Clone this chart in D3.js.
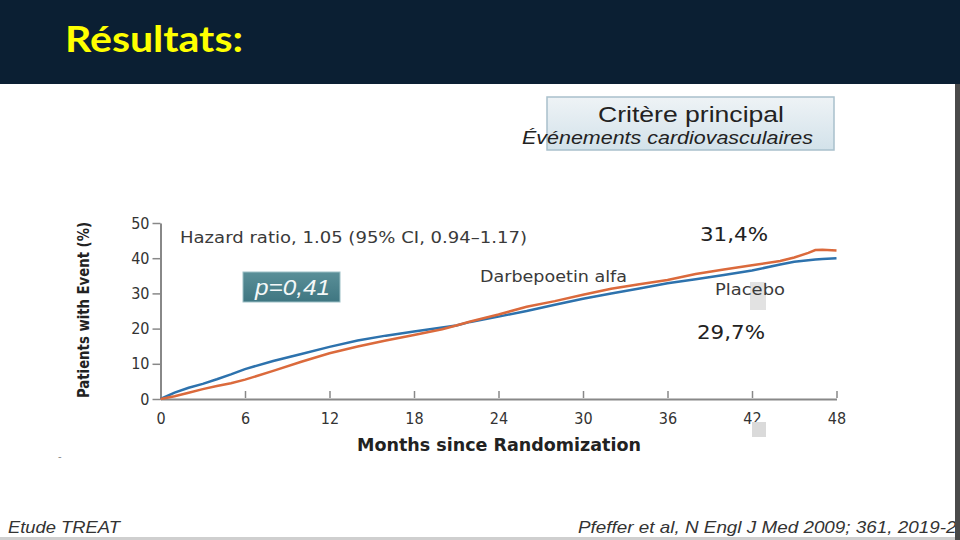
<!DOCTYPE html>
<html><head><meta charset="utf-8">
<script src="https://cdn.jsdelivr.net/npm/d3@7"></script>
<style>html,body{margin:0;padding:0;background:#fff;}svg{display:block;}</style>
</head><body>
<script>
// Data (Kaplan–Meier style cumulative %)
const months = [0,1,2,3,4,5,6,8,10,12,14,16,18,20,21,22,24,26,28,30,32,34,36,38,40,42,44,45,46,46.5,47,48];
const placebo = [0,1.8,3.2,4.3,5.6,7.0,8.5,10.8,12.8,14.8,16.6,18.0,19.2,20.3,20.9,21.9,23.4,25.0,26.8,28.5,30.0,31.4,32.9,34.0,35.2,36.5,38.2,39.0,39.4,39.6,39.8,40.0];
const darbepoetin = [0,0.8,1.8,2.8,3.7,4.5,5.5,8.0,10.6,13.0,14.9,16.6,18.2,19.8,20.9,22.0,24.0,26.2,27.8,29.6,31.3,32.6,33.8,35.5,36.8,38.0,39.2,40.2,41.5,42.3,42.4,42.2];
const xTicks = [0,6,12,18,24,30,36,42,48];
const yTicks = [0,10,20,30,40,50];

const W = 960, H = 540;
const svg = d3.select("body").append("svg").attr("width", W).attr("height", H);

// background + header
svg.append("rect").attr("x",0).attr("y",0).attr("width",W).attr("height",H).attr("fill","#ffffff");
svg.append("rect").attr("x",0).attr("y",0).attr("width",W).attr("height",84).attr("fill","#0b1f33");
svg.append("text").attr("x",65).attr("y",52).attr("fill","#ffff00")
  .attr("font-family","Lato, Open Sans, sans-serif").attr("font-weight","bold").attr("font-size",37)
  .attr("textLength",178).attr("lengthAdjust","spacingAndGlyphs")
  .text("Résultats:");
svg.append("rect").attr("x",0).attr("y",537).attr("width",955).attr("height",3).attr("fill","#cfcfcf");

// Box title
const defs = svg.append("defs");
const g1 = defs.append("linearGradient").attr("id","boxg").attr("x1",0).attr("y1",0).attr("x2",0).attr("y2",1);
g1.append("stop").attr("offset","0%").attr("stop-color","#eef3f6");
g1.append("stop").attr("offset","100%").attr("stop-color","#d3e2ea");
svg.append("rect").attr("x",547).attr("y",97).attr("width",287).attr("height",53)
  .attr("fill","url(#boxg)").attr("stroke","#a9c0cc").attr("stroke-width",1.5);
svg.append("text").attr("x",598).attr("y",122)
  .attr("font-family","Liberation Sans, Arial, sans-serif").attr("font-size",22).attr("fill","#222")
  .attr("textLength",186).attr("lengthAdjust","spacingAndGlyphs")
  .text("Critère principal");
svg.append("text").attr("x",522).attr("y",144)
  .attr("font-family","Liberation Sans, Arial, sans-serif").attr("font-style","italic").attr("font-size",18).attr("fill","#222")
  .attr("textLength",291).attr("lengthAdjust","spacingAndGlyphs")
  .text("Événements cardiovasculaires");

// chart scales
const x = d3.scaleLinear().domain([0,48]).range([160.5,836.5]);
const y = d3.scaleLinear().domain([0,50]).range([399,223]);

const axisFont = "DejaVu Sans Condensed, DejaVu Sans, sans-serif";
const gx = svg.append("g").attr("transform","translate(0,399)")
  .call(d3.axisBottom(x).tickValues(xTicks).tickSize(7).tickPadding(4).tickSizeOuter(0));
gx.selectAll("text").attr("font-family",axisFont).attr("font-size",16).attr("fill","#333").attr("dy","0.85em");
gx.select(".domain").attr("stroke","#888").attr("stroke-width",2);
gx.selectAll(".tick line").attr("stroke","#888").attr("stroke-width",1.5).attr("y1",-1).attr("y2",-8);

const gy = svg.append("g").attr("transform","translate(160.5,0)")
  .call(d3.axisLeft(y).tickValues(yTicks).tickSize(8).tickPadding(3).tickSizeOuter(0));
gy.selectAll("text").attr("font-family",axisFont).attr("font-size",16).attr("fill","#333");
gy.select(".domain").attr("stroke","#888").attr("stroke-width",2);
gy.selectAll(".tick line").attr("stroke","#888").attr("stroke-width",1.5);

svg.append("text").attr("transform","translate(89,310) rotate(-90)").attr("text-anchor","middle")
  .attr("font-family",axisFont).attr("font-weight","bold").attr("font-size",16).attr("fill","#222")
  .attr("textLength",176).attr("lengthAdjust","spacingAndGlyphs")
  .text("Patients with Event (%)");
svg.append("text").attr("x",357).attr("y",451)
  .attr("font-family",axisFont).attr("font-weight","bold").attr("font-size",17).attr("fill","#222")
  .attr("textLength",284).attr("lengthAdjust","spacingAndGlyphs")
  .text("Months since Randomization");

// lines
const line = vals => d3.line().x((d,i)=>x(months[i])).y(d=>y(d)).curve(d3.curveLinear)(vals);
svg.append("path").attr("d",line(placebo)).attr("fill","none").attr("stroke","#2d72ad").attr("stroke-width",2.5);
svg.append("path").attr("d",line(darbepoetin)).attr("fill","none").attr("stroke","#db6a3c").attr("stroke-width",2.5);

// grey artifacts
svg.append("rect").attr("x",750).attr("y",282).attr("width",16).attr("height",28).attr("fill","#e2e2e2");
svg.append("rect").attr("x",752).attr("y",422).attr("width",14).attr("height",15).attr("fill","#dadada");

// annotations
const annFont = "DejaVu Sans, sans-serif";
function ann(tx, ty, size, len, txt, col) {
  svg.append("text").attr("x",tx).attr("y",ty).attr("font-family",annFont).attr("font-size",size).attr("fill",col)
    .attr("textLength",len).attr("lengthAdjust","spacingAndGlyphs").text(txt);
}
ann(180, 243, 15, 347, "Hazard ratio, 1.05 (95% CI, 0.94–1.17)", "#3a3a3a");
ann(480, 282, 15, 147, "Darbepoetin alfa", "#3a3a3a");
ann(715, 295, 15, 70, "Placebo", "#3a3a3a");
ann(700, 241, 19, 68, "31,4%", "#222");
ann(697, 339, 19, 68, "29,7%", "#222");

// p box
const g2 = defs.append("linearGradient").attr("id","pg").attr("x1",0).attr("y1",0).attr("x2",0).attr("y2",1);
g2.append("stop").attr("offset","0%").attr("stop-color","#5a8f98");
g2.append("stop").attr("offset","100%").attr("stop-color","#3f7681");
svg.append("rect").attr("x",243).attr("y",272).attr("width",97).attr("height",30).attr("fill","url(#pg)").attr("stroke","#9cc0c6").attr("stroke-width",1);
svg.append("text").attr("x",255).attr("y",295)
  .attr("font-family","Liberation Sans, Arial, sans-serif").attr("font-style","italic").attr("font-size",22).attr("fill","#f4f8f8")
  .attr("textLength",75).attr("lengthAdjust","spacingAndGlyphs")
  .text("p=0,41");

// footer
svg.append("text").attr("x",58).attr("y",460).attr("font-family",annFont).attr("font-size",10).attr("fill","#888").text("-");
svg.append("text").attr("x",8).attr("y",533).attr("font-family","Liberation Sans Narrow, Liberation Sans, Arial, sans-serif").attr("font-style","italic").attr("font-size",17).attr("fill","#333")
  .attr("textLength",112).attr("lengthAdjust","spacingAndGlyphs")
  .text("Etude TREAT");
svg.append("text").attr("x",578).attr("y",533).attr("font-family","Liberation Sans Narrow, Liberation Sans, Arial, sans-serif").attr("font-style","italic").attr("font-size",17).attr("fill","#333")
  .attr("textLength",410).attr("lengthAdjust","spacingAndGlyphs")
  .text("Pfeffer et al, N Engl J Med 2009; 361, 2019-2034");
svg.append("rect").attr("x",955).attr("y",84).attr("width",5).attr("height",H-84).attr("fill","#4a4a4a");
</script>
</body></html>
